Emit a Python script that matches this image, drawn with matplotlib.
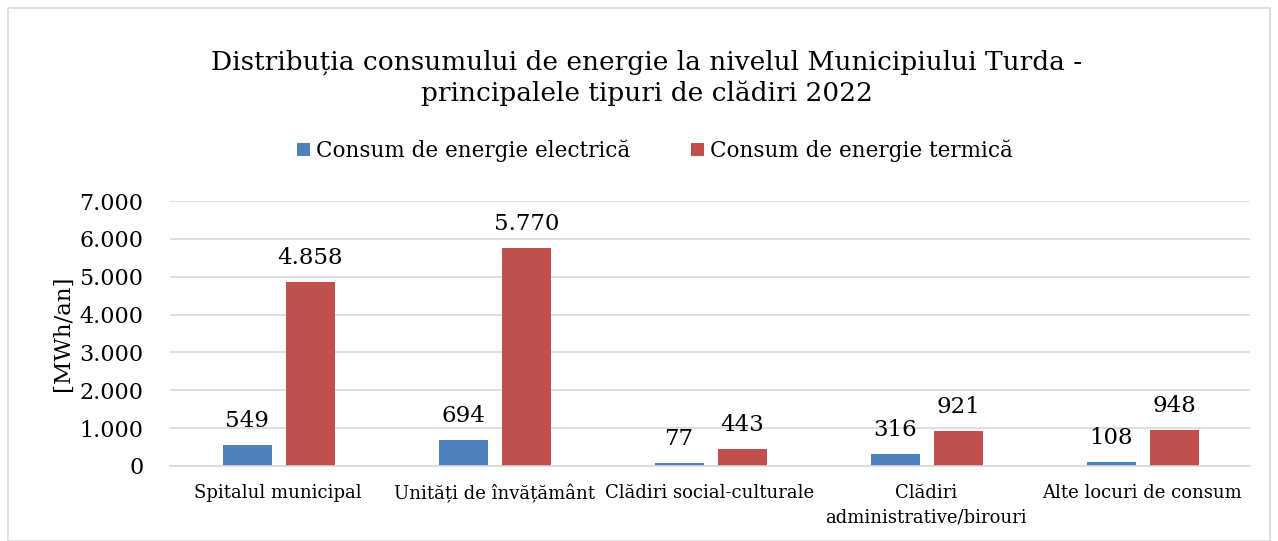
import matplotlib
matplotlib.use("Agg")
import matplotlib.pyplot as plt
import numpy as np
from matplotlib.patches import Rectangle

categories = ["Spitalul municipal", "Unități de învățământ", "Clădiri social-culturale",
              "Clădiri\nadministrative/birouri", "Alte locuri de consum"]
electric = [549, 694, 77, 316, 108]
thermal = [4858, 5770, 443, 921, 948]
series_names = ["Consum de energie electrică", "Consum de energie termică"]
yticks = [0, 1000, 2000, 3000, 4000, 5000, 6000, 7000]

def fmt(v):
    return f"{v:,.0f}".replace(",", ".")

FONT = "DejaVu Serif"
plt.rcParams['font.family'] = [FONT]

fig = plt.figure(figsize=(12.78, 5.41), dpi=100)
fig.patches.append(Rectangle((8/1278, 0), 1 - 16/1278, 1 - 8/541, transform=fig.transFigure,
                             fill=False, edgecolor="#d9d9d9", linewidth=1.2))
ax = fig.add_axes([170/1278, 75/541, 1080/1278, 265/541])

x = np.arange(len(categories))
w = 0.226
b1 = ax.bar(x - 0.143, electric, w, color="#4F81BD", label=series_names[0])
b2 = ax.bar(x + 0.15, thermal, w, color="#C0504D", label=series_names[1])
for bars, vals in ((b1, electric), (b2, thermal)):
    for r, v in zip(bars, vals):
        ax.annotate(fmt(v), (r.get_x() + r.get_width()/2, v), xytext=(0, 13),
                    textcoords="offset points", ha="center", va="baseline", fontsize=16.5)

ax.set_xlim(-0.5, len(categories) - 0.5)
ax.set_ylim(0, 7000)
ax.set_yticks(yticks)
ax.set_yticklabels([fmt(v) for v in yticks], fontsize=16)
ax.set_xticks(x)
ax.set_xticklabels(categories, fontsize=13, linespacing=1.45)
ax.tick_params(axis="both", length=0)
ax.tick_params(axis="y", pad=19)
ax.tick_params(axis="x", pad=13)
ax.yaxis.grid(True, color="#d9d9d9", linewidth=1.2)
ax.set_axisbelow(True)
for s in ["top", "right", "left"]:
    ax.spines[s].set_visible(False)
ax.spines["bottom"].set_color("#d9d9d9")
ax.spines["bottom"].set_linewidth(1.2)
ax.set_ylabel("[MWh/an]", fontsize=16.5, labelpad=4)

fig.text(647/1278, 1 - 78/541, "Distribuția consumului de energie la nivelul Municipiului Turda -\nprincipalele tipuri de clădiri 2022",
         ha="center", va="center", fontsize=19, linespacing=1.25)
fig.legend(handles=[b1, b2], labels=series_names, loc="center", bbox_to_anchor=(655/1278, 1 - 151/541),
           ncol=2, frameon=False, fontsize=15.5, handlelength=0.6, handleheight=0.6,
           columnspacing=2.8, handletextpad=0.3)

fig.savefig("out.png", dpi=100)
